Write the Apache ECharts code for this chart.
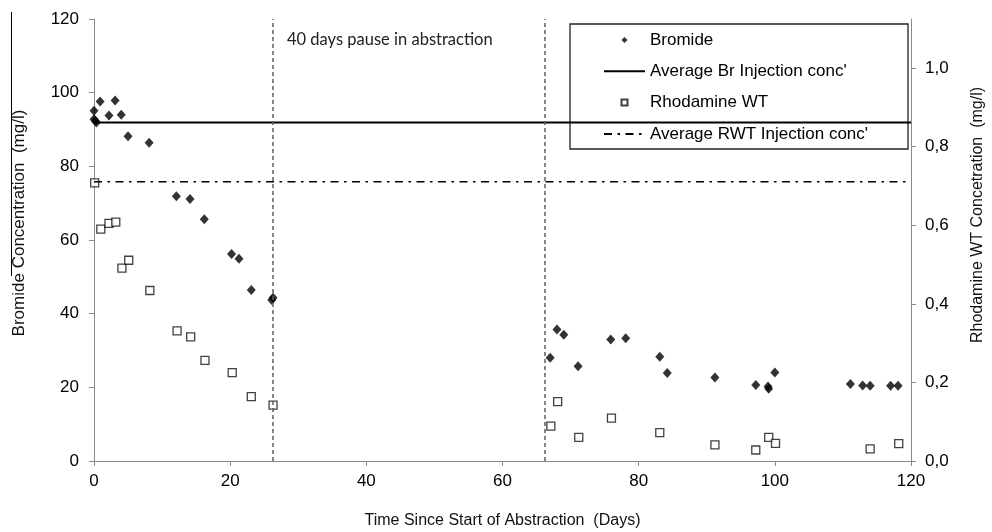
<!DOCTYPE html>
<html>
<head>
<meta charset="utf-8">
<script src="https://cdn.jsdelivr.net/npm/echarts@6/dist/echarts.min.js"></script>
<style>html,body{margin:0;padding:0;background:#fff;}#c{width:992px;height:532px;}</style>
</head>
<body>
<div id="c"></div>
<script>
// ---- data ----
const brDays = [0, 0, 0.35, 0.2, 0.9, 2.2, 3.1, 4.0, 5.0, 8.1, 12.1, 14.1, 16.2, 20.2, 21.3, 23.1, 26.1, 26.3,
  67.0, 68.0, 69.0, 71.1, 75.9, 78.1, 83.1, 84.2, 91.2, 97.2, 99.0, 99.1, 100.0, 111.1, 112.9, 114.0, 117.0, 118.1];
const brVals = [95.1, 92.8, 91.9, 92.4, 97.6, 93.8, 97.9, 94.0, 88.2, 86.4, 71.9, 71.1, 65.6, 56.2, 54.9, 46.4, 43.7, 44.3,
  28.0, 35.7, 34.3, 25.7, 33.0, 33.3, 28.3, 23.9, 22.7, 20.6, 20.2, 19.6, 24.0, 20.9, 20.5, 20.4, 20.4, 20.4];
const rwtDays = [0.1, 1.0, 2.2, 3.2, 4.1, 5.1, 8.2, 12.2, 14.2, 16.3, 20.3, 23.1, 26.3,
  67.1, 68.1, 71.2, 76.0, 83.1, 91.2, 97.2, 99.1, 100.1, 114.0, 118.2];
const rwtVals = [0.708, 0.590, 0.605, 0.608, 0.491, 0.511, 0.434, 0.331, 0.316, 0.256, 0.225, 0.164, 0.142,
  0.089, 0.151, 0.060, 0.109, 0.072, 0.041, 0.028, 0.060, 0.045, 0.031, 0.044];
const brAvg = 91.9;
const rwtAvg = 0.711;
const pauseDays = [26.3, 66.2];
const xTicks = [0, 20, 40, 60, 80, 100, 120];
const leftTicks = [0, 20, 40, 60, 80, 100, 120];
const rightTicks = [0, 0.2, 0.4, 0.6, 0.8, 1.0];
const names = ['Bromide', "Average Br Injection conc'", 'Rhodamine WT', "Average RWT Injection conc'"];
const xExtent = [0, 120];
const rightMax = 1.125;

const ARIAL = 'Liberation Sans, Arial, sans-serif';
const axisGray = '#8a8a8a';
const noMarker = {color: 'rgba(0,0,0,0)', borderWidth: 0};

const chart = echarts.init(document.getElementById('c'), null, {renderer: 'canvas'});
chart.setOption({
  animation: false,
  backgroundColor: '#fff',
  grid: {left: 94, right: 81, top: 19, bottom: 71, containLabel: false, outerBoundsMode: 'none'},
  xAxis: {
    type: 'value', min: xExtent[0], max: xExtent[1], interval: 20,
    name: 'Time Since Start of Abstraction  (Days)', nameLocation: 'middle', nameGap: 52,
    nameTextStyle: {fontFamily: ARIAL, fontSize: 16, color: '#111'},
    axisLine: {show: true, onZero: false, lineStyle: {color: axisGray, width: 1}},
    axisTick: {show: true, inside: false, length: 5, lineStyle: {color: axisGray}, customValues: xTicks},
    axisLabel: {margin: 12, fontFamily: ARIAL, fontSize: 17, color: '#000', customValues: xTicks},
    splitLine: {show: false}
  },
  yAxis: [{
    type: 'value', min: 0, max: 120, interval: 20, position: 'left',
    name: 'Bromide Concentration  (mg/l)', nameLocation: 'middle', nameGap: 66,
    nameTextStyle: {fontFamily: ARIAL, fontSize: 17, color: '#111', padding: [0, 0, 0, 34]},
    axisLine: {show: true, lineStyle: {color: axisGray, width: 1}},
    axisTick: {show: true, length: 5, lineStyle: {color: axisGray}, customValues: leftTicks},
    axisLabel: {margin: 15, fontFamily: ARIAL, fontSize: 17, color: '#000', customValues: leftTicks},
    splitLine: {show: false}
  }, {
    type: 'value', min: 0, max: rightMax, position: 'right',
    name: 'Rhodamine WT Concetration  (mg/l)', nameLocation: 'middle', nameGap: 59,
    nameTextStyle: {fontFamily: ARIAL, fontSize: 16, color: '#111', padding: [0, 0, 0, 50]},
    axisLine: {show: true, lineStyle: {color: axisGray, width: 1}},
    axisTick: {show: true, length: 5, lineStyle: {color: axisGray}, customValues: rightTicks},
    axisLabel: {margin: 14, fontFamily: ARIAL, fontSize: 17, color: '#000', customValues: rightTicks,
      formatter: v => v.toFixed(1).replace('.', ',')},
    splitLine: {show: false}
  }],
  legend: {
    orient: 'vertical', left: 598, top: 25, itemWidth: 41, itemHeight: 6, itemGap: 11.3,
    selectedMode: false,
    textStyle: {fontFamily: ARIAL, fontSize: 17, color: '#000', lineHeight: 20},
    data: [
      {name: names[0], icon: 'path://M5,0L10,5L5,10L0,5Z'},
      {name: names[1], itemStyle: noMarker},
      {name: names[2], icon: 'path://M0,0L10,0L10,10L0,10Z'},
      {name: names[3], itemStyle: noMarker}
    ]
  },
  graphic: [
    {type: 'rect', z: 3, shape: {x: 570, y: 24, width: 338, height: 125},
      style: {fill: '#fff', stroke: '#222', lineWidth: 1.3}},
    {type: 'text', z: 5, x: 287, y: 40,
      style: {text: '40 days pause in abstraction', font: '16.5px Lato, "Open Sans", sans-serif', fill: '#222', verticalAlign: 'middle', align: 'left'}},
    {type: 'line', z: 5, shape: {x1: 11.5, y1: 12, x2: 11.5, y2: 276}, style: {stroke: '#000', lineWidth: 1}}
  ],
  series: [
    {
      name: names[0], type: 'scatter', yAxisIndex: 0,
      data: brDays.map((d, i) => [d, brVals[i]]),
      symbol: 'diamond', symbolSize: [9, 10],
      itemStyle: {color: '#000'},
      markLine: {
        silent: true, symbol: ['none', 'none'], label: {show: false},
        lineStyle: {type: [4, 3], color: '#5e5e5e', width: 1.5},
        data: pauseDays.map(d => ({xAxis: d}))
      }
    },
    {
      name: names[1], type: 'line', yAxisIndex: 0,
      data: [[xExtent[0], brAvg], [xExtent[1], brAvg]],
      symbol: 'none', showSymbol: false,
      lineStyle: {color: '#000', width: 2, type: 'solid'},
      itemStyle: {color: '#000'}
    },
    {
      name: names[2], type: 'scatter', yAxisIndex: 1,
      data: rwtDays.map((d, i) => [d, rwtVals[i]]),
      symbol: 'rect', symbolSize: 8,
      itemStyle: {color: '#fff', borderColor: '#111', borderWidth: 1.3}
    },
    {
      name: names[3], type: 'line', yAxisIndex: 1,
      data: [[xExtent[0], rwtAvg], [xExtent[1], rwtAvg]],
      symbol: 'none', showSymbol: false,
      lineStyle: {color: '#000', width: 1.5, type: [8, 5.5, 2.5, 5.5]},
      itemStyle: {color: '#000'}
    }
  ]
});
</script>
</body>
</html>
